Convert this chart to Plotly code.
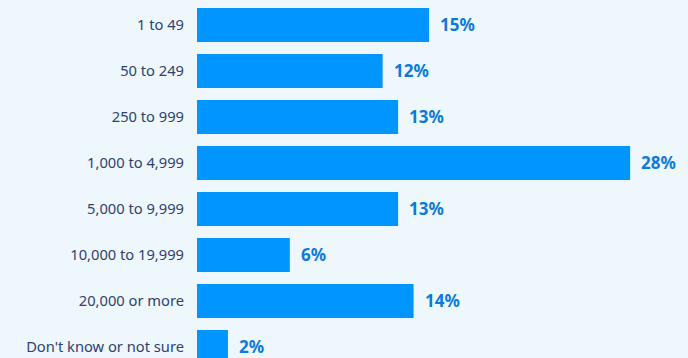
import plotly.graph_objects as go

categories = ["1 to 49", "50 to 249", "250 to 999", "1,000 to 4,999", "5,000 to 9,999",
              "10,000 to 19,999", "20,000 or more", "Don't know or not sure"]
values = [15, 12, 13, 28, 13, 6, 14, 2]

BAR = "#0095FF"
LABEL = "#0A7BDC"
BG = "#EEF7FC"
TICK = "#2E4270"

fig = go.Figure(go.Bar(
    x=values, y=categories, orientation="h",
    marker=dict(color=BAR, line=dict(width=0)),
    width=0.74, hoverinfo="skip",
))

for c, v in zip(categories, values):
    fig.add_annotation(x=v, y=c, text=f"<b>{v}%</b>", showarrow=False,
                       xanchor="left", yanchor="middle", xshift=9,
                       font=dict(family="Noto Sans", size=17, color=LABEL))

fig.update_layout(
    width=688, height=358,
    margin=dict(l=197, r=0, t=0, b=0),
    paper_bgcolor=BG, plot_bgcolor=BG,
    showlegend=False,
    xaxis=dict(range=[0, 31.74], visible=False, fixedrange=True),
    yaxis=dict(type="category", categoryorder="array", categoryarray=categories,
               range=[7.24, -0.543], showgrid=False, zeroline=False, showline=False,
               ticks="", ticklabelstandoff=12,
               tickfont=dict(family="Noto Sans", size=14.7, color=TICK)),
)

fig.write_html("out.html")
